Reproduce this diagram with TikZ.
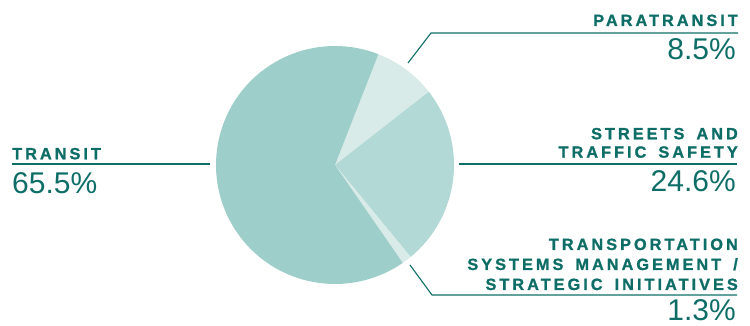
\documentclass[tikz,border=0pt]{standalone}
\usepackage{fontspec}
\setmainfont{Liberation Sans}
\newfontfamily\labfont[LetterSpace=18.5,FakeBold=1.2,WordSpace=1.6]{Liberation Sans Bold}
\definecolor{teal1}{HTML}{0E6E67}
\definecolor{ctransit}{HTML}{9ECEC9}
\definecolor{cpara}{HTML}{D8EBE8}
\definecolor{cstreet}{HTML}{B2D9D5}
\definecolor{ctsm}{HTML}{D8EBE8}
\tikzset{
  lab/.style={text=teal1, inner sep=0pt, font=\labfont\fontsize{16.3}{18}\selectfont},
  pct/.style={text=teal1, inner sep=0pt, font=\fontsize{30}{32}\selectfont},
  leader/.style={draw=teal1, line width=1.1pt},
}
\begin{document}
\begin{tikzpicture}[x=1pt,y=1pt]
\useasboundingbox (0,0) rectangle (750,326);
\coordinate (c) at (335,161);
% pie
\fill[cpara] (c) -- ++(68.6:119) arc[start angle=68.6, end angle=38.0, radius=119pt] -- cycle;
\fill[cstreet] (c) -- ++(38.0:119) arc[start angle=38.0, end angle=-50.6, radius=119pt] -- cycle;
\fill[ctsm] (c) -- ++(-50.6:119) arc[start angle=-50.6, end angle=-55.3, radius=119pt] -- cycle;
\fill[ctransit] (c) -- ++(-55.3:119) arc[start angle=-55.3, end angle=-291.4, radius=119pt] -- cycle;
% labels
\node[lab, anchor=base west] (ltransit) at (12,166.7) {TRANSIT};
\node[pct, anchor=base west] (ptransit) at (12,132.7) {65.5\%};
\node[lab, anchor=base east] (lpara) at (738,300) {PARATRANSIT};
\node[pct, anchor=base east] (ppara) at (736,266.7) {8.5\%};
\node[lab, anchor=base east] (lstreet1) at (738,186.7) {STREETS AND};
\node[lab, anchor=base east] (lstreet2) at (738,168.3) {TRAFFIC SAFETY};
\node[pct, anchor=base east] (pstreet) at (736,134.3) {24.6\%};
\node[lab, anchor=base east] (ltsm1) at (738,76) {TRANSPORTATION};
\node[lab, anchor=base east] (ltsm2) at (738,56) {SYSTEMS MANAGEMENT /};
\node[lab, anchor=base east] (ltsm3) at (738,36) {STRATEGIC INITIATIVES};
\node[pct, anchor=base east] (ptsm) at (736,5) {1.3\%};
% leader coordinates
\coordinate (t1) at (12,162);
\coordinate (t2) at (210,162);
\coordinate (pa1) at (408,263);
\coordinate (pa2) at (431,293);
\coordinate (pa3) at (738,293);
\coordinate (s1) at (459,162);
\coordinate (s2) at (737,162);
\coordinate (m1) at (410,61);
\coordinate (m2) at (432,31);
\coordinate (m3) at (737,31);
\draw[leader] (t1) -- (t2);
\draw[leader] (pa1) -- (pa2) -- (pa3);
\draw[leader] (s1) -- (s2);
\draw[leader] (m1) -- (m2) -- (m3);
\end{tikzpicture}
\end{document}
